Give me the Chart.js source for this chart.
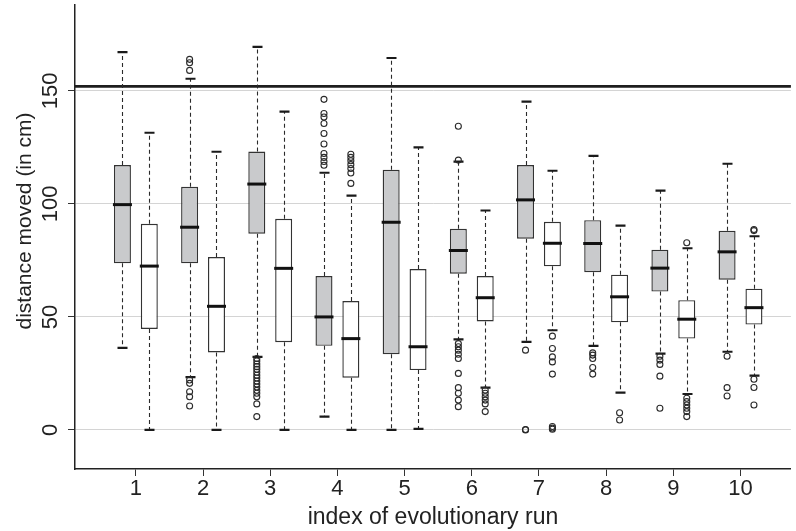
<!DOCTYPE html>
<html>
<head>
<meta charset="utf-8">
<script src="https://cdn.jsdelivr.net/npm/chart.js@4.4.1/dist/chart.umd.min.js"></script>
<style>
  html, body { margin: 0; padding: 0; background: #ffffff; }
  #wrap { width: 796px; height: 531px; }
</style>
</head>
<body>
<div id="wrap"><canvas id="c" width="796" height="531"></canvas></div>
<script>
// ---- data ----
const runIdx = [1, 2, 3, 4, 5, 6, 7, 8, 9, 10];
const xTicks = [1, 2, 3, 4, 5, 6, 7, 8, 9, 10];
const yTicks = [0, 50, 100, 150];
const refLine = 152;

const greyHi  = [167.2, 155.4, 169.5, 113.8, 164.6, 118.7, 145.3, 121.3, 105.9, 117.8];
const greyQ3  = [117.2, 107.6, 123.2, 68.1, 115.1, 89.0, 117.2, 92.8, 79.7, 88.1];
const greyMed = [99.7, 89.7, 108.8, 50.0, 91.9, 79.4, 101.8, 82.5, 71.6, 78.8];
const greyQ1  = [73.7, 73.7, 86.8, 37.2, 33.5, 69.1, 84.6, 69.8, 61.2, 66.5];
const greyLo  = [36.3, 23.4, 32.3, 5.9, 0, 40.1, 39.0, 37.2, 33.8, 34.6];

const whiteHi  = [131.5, 123.1, 140.9, 103.7, 125.0, 97.1, 114.7, 90.4, 80.4, 85.7];
const whiteQ3  = [91.2, 76.5, 93.4, 57.0, 71.2, 68.1, 92.1, 68.7, 57.4, 62.5];
const whiteMed = [72.5, 54.7, 71.5, 40.4, 36.8, 58.5, 82.6, 58.9, 49.0, 54.1];
const whiteQ1  = [44.7, 34.3, 38.8, 23.1, 26.5, 48.0, 72.4, 47.6, 40.4, 46.6];
const whiteLo  = [0, 0, 0, 0, 0.5, 18.7, 44.1, 16.5, 15.9, 24.0];

const greyOut = [
  [],
  [164.0, 162.5, 159.1, 22.1, 20.6, 16.9, 14.7, 10.6],
  [31.6, 30.5, 29.2, 28.0, 26.8, 25.5, 24.2, 23.0, 21.6, 20.3, 19.0, 17.5, 16.2, 14.7, 11.5, 5.9],
  [146.3, 140.0, 138.5, 135.6, 131.2, 126.5, 122.3, 120.6, 118.8, 117.1],
  [],
  [134.4, 119.4, 38.2, 36.8, 35.3, 33.5, 31.6, 25.0, 18.7, 16.2, 13.2, 10.3],
  [35.3, 0.2, 0],
  [34.1, 33.1, 31.6, 27.6, 24.7],
  [32.6, 30.9, 29.0, 23.8, 9.6],
  [32.6, 18.7, 15.0]
];
const whiteOut = [
  [],
  [],
  [],
  [122.0, 120.6, 119.1, 117.4, 115.7, 113.7, 109.1],
  [],
  [17.6, 16.2, 14.7, 13.2, 11.5, 8.1],
  [41.5, 36.0, 32.3, 30.1, 24.7, 1.5, 0.8, 0.3],
  [7.6, 4.4],
  [82.8, 14.0, 12.5, 11.0, 9.6, 8.1, 5.9],
  [88.7, 88.2, 22.4, 18.8, 11.0]
];

const yTitle = 'distance moved (in cm)';
const xTitle = 'index of evolutionary run';

// ---- build ----
const FONT = '"Liberation Sans", Arial, Helvetica, sans-serif';
const INK = '#222222';
const groups = [
  { off: -0.2, hi: greyHi, q3: greyQ3, med: greyMed, q1: greyQ1, lo: greyLo, out: greyOut, fill: '#c9cacc' },
  { off: 0.2, hi: whiteHi, q3: whiteQ3, med: whiteMed, q1: whiteQ1, lo: whiteLo, out: whiteOut, fill: '#ffffff' }
];

const boxDatasets = groups.map(g => ({
  type: 'bar',
  data: runIdx.map((r, i) => ({ x: r + g.off, y: [g.q1[i], g.q3[i]] })),
  backgroundColor: g.fill,
  borderColor: '#333333',
  borderWidth: 1.4,
  borderSkipped: false,
  grouped: false,
  barPercentage: 1,
  maxBarThickness: 17,
  order: 2
}));

const outDatasets = groups.map(g => ({
  type: 'scatter',
  data: runIdx.flatMap((r, i) => g.out[i].map(v => ({ x: r + g.off, y: v }))),
  pointStyle: 'circle',
  pointRadius: 3,
  pointBackgroundColor: 'rgba(0,0,0,0)',
  pointBorderColor: '#2a2a2a',
  pointBorderWidth: 1.1,
  showLine: false,
  order: 1
}));

const boxPlugin = {
  id: 'boxExtras',
  beforeDatasetsDraw(chart) {
    const { ctx, chartArea, scales: { x, y } } = chart;
    ctx.save();
    // reference line
    const yr = y.getPixelForValue(refLine);
    ctx.strokeStyle = '#1e1e1e';
    ctx.lineWidth = 2.7;
    ctx.beginPath();
    ctx.moveTo(chartArea.left, yr);
    ctx.lineTo(chartArea.right, yr);
    ctx.stroke();
    // whiskers
    groups.forEach(g => {
      runIdx.forEach((r, i) => {
        const px = Math.round(x.getPixelForValue(r + g.off)) + 0.5;
        ctx.setLineDash([4, 3]);
        ctx.lineWidth = 1.1;
        ctx.strokeStyle = '#2a2a2a';
        ctx.beginPath();
        ctx.moveTo(px, y.getPixelForValue(g.q3[i]));
        ctx.lineTo(px, y.getPixelForValue(g.hi[i]));
        ctx.moveTo(px, y.getPixelForValue(g.q1[i]));
        ctx.lineTo(px, y.getPixelForValue(g.lo[i]));
        ctx.stroke();
        ctx.setLineDash([]);
        ctx.lineWidth = 2.2;
        ctx.strokeStyle = '#1a1a1a';
        ctx.beginPath();
        [g.hi[i], g.lo[i]].forEach(v => {
          const py = y.getPixelForValue(v);
          ctx.moveTo(px - 5, py);
          ctx.lineTo(px + 5, py);
        });
        ctx.stroke();
      });
    });
    ctx.restore();
  },
  afterDatasetsDraw(chart) {
    const { ctx, scales: { x, y } } = chart;
    ctx.save();
    ctx.strokeStyle = '#111111';
    ctx.lineWidth = 3;
    groups.forEach(g => {
      runIdx.forEach((r, i) => {
        const px = x.getPixelForValue(r + g.off);
        const py = y.getPixelForValue(g.med[i]);
        ctx.beginPath();
        ctx.moveTo(px - 9.5, py);
        ctx.lineTo(px + 9.5, py);
        ctx.stroke();
      });
    });
    ctx.restore();
  },
  afterDraw(chart) {
    const { ctx, scales: { y } } = chart;
    ctx.save();
    ctx.fillStyle = INK;
    ctx.textAlign = 'center';
    ctx.textBaseline = 'middle';
    ctx.font = '22px ' + FONT;
    yTicks.forEach(v => {
      const py = y.getPixelForValue(v);
      ctx.save();
      ctx.translate(51, py);
      ctx.rotate(-Math.PI / 2);
      ctx.fillText(String(v), 0, 0);
      ctx.restore();
    });
    ctx.font = '21px ' + FONT;
    ctx.save();
    ctx.translate(25, 221);
    ctx.rotate(-Math.PI / 2);
    ctx.fillText(yTitle, 0, 0);
    ctx.restore();
    ctx.restore();
  }
};

new Chart(document.getElementById('c'), {
  type: 'bar',
  data: { datasets: [...boxDatasets, ...outDatasets] },
  options: {
    responsive: false,
    devicePixelRatio: 1,
    animation: false,
    layout: { padding: { top: 4, right: 0, left: 0, bottom: 0 } },
    plugins: { legend: { display: false }, tooltip: { enabled: false } },
    scales: {
      x: {
        type: 'linear',
        min: 0.094,
        max: 10.75,
        offset: false,
        afterBuildTicks: s => { s.ticks = xTicks.map(v => ({ value: v })); },
        afterFit: s => { s.height = 62; },
        grid: { display: true, drawOnChartArea: false, drawTicks: true, tickLength: 7, tickColor: '#333333', offset: false },
        border: { display: true, color: INK, width: 1.5 },
        ticks: { color: INK, font: { family: FONT, size: 22 }, padding: 0, maxRotation: 0, autoSkip: false },
        title: { display: true, text: xTitle, color: INK, font: { family: FONT, size: 23 }, padding: { top: 0, bottom: 0 } }
      },
      y: {
        type: 'linear',
        min: -17.3,
        max: 188,
        afterBuildTicks: s => { s.ticks = yTicks.map(v => ({ value: v })); },
        afterFit: s => { s.width = 75; },
        grid: { display: true, color: '#d4d4d4', lineWidth: 1, drawTicks: true, tickLength: 7, tickColor: '#333333' },
        border: { display: true, color: INK, width: 1.5 },
        ticks: { display: false }
      }
    }
  },
  plugins: [boxPlugin]
});
</script>
</body>
</html>
